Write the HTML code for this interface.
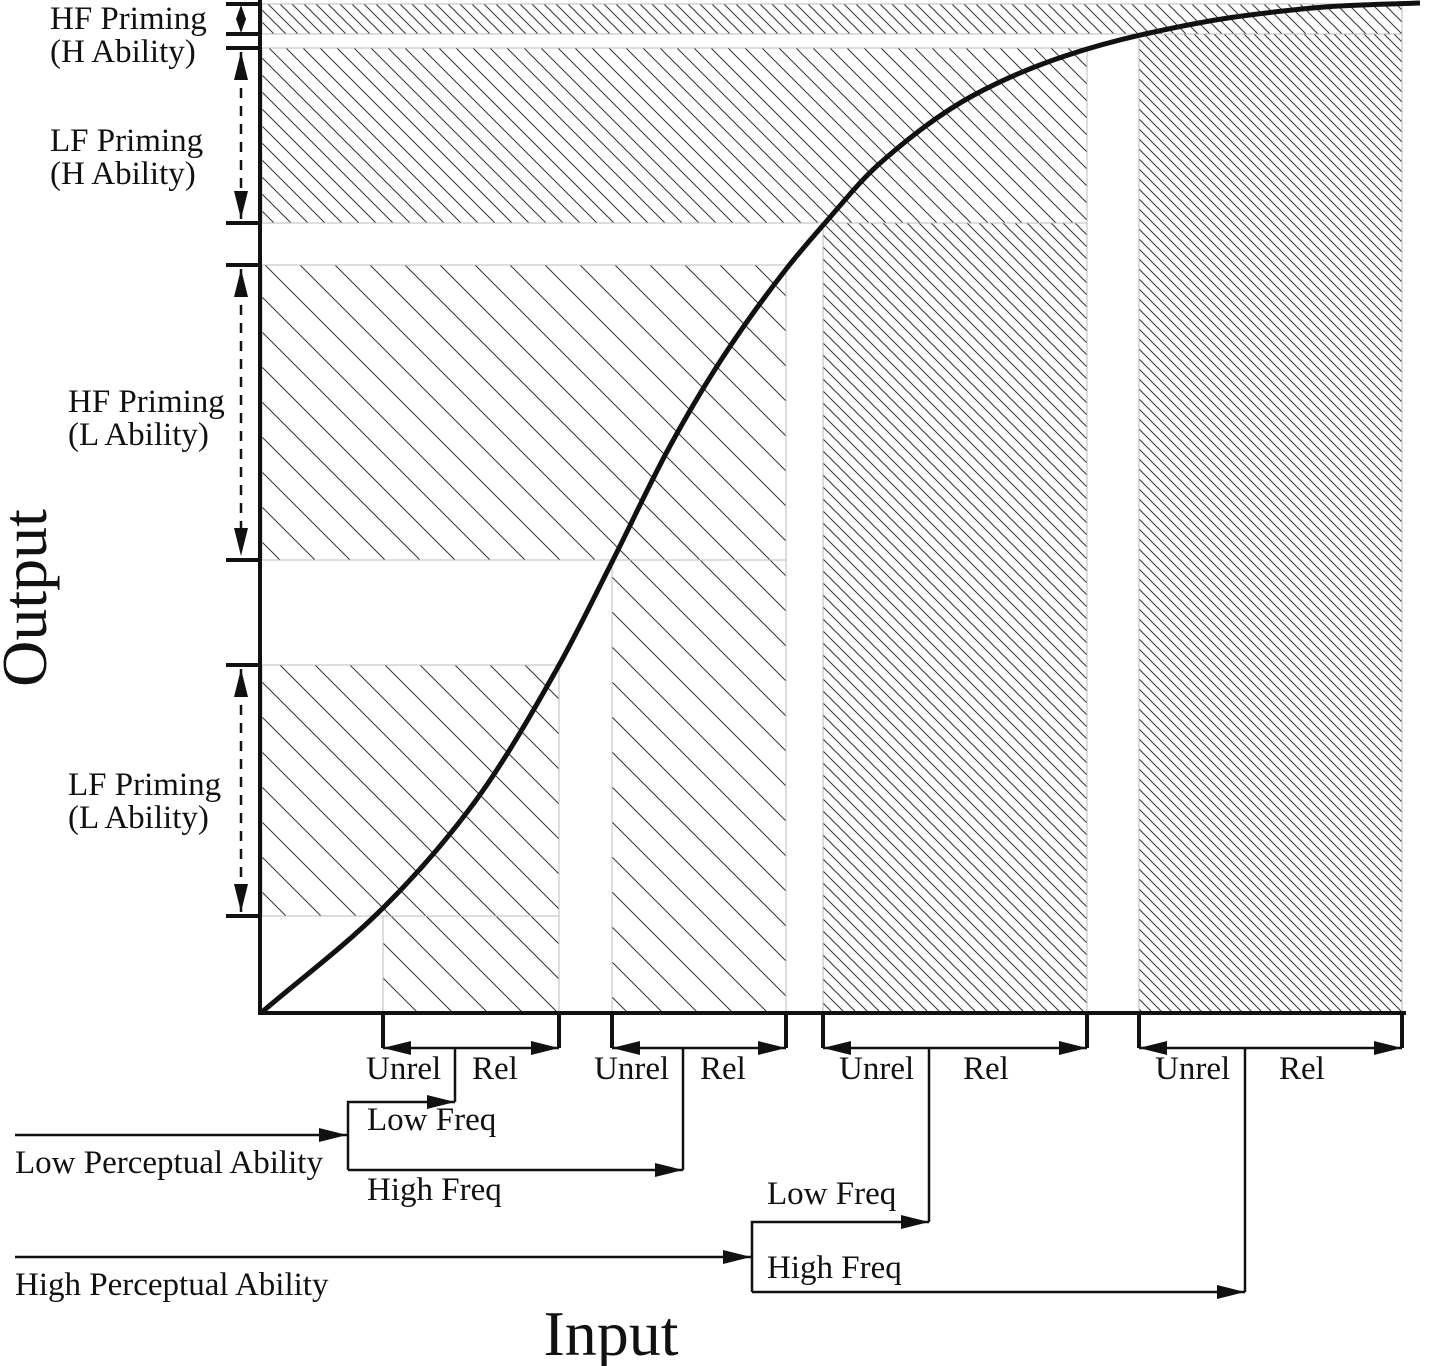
<!DOCTYPE html>
<html><head><meta charset="utf-8"><style>
body{margin:0;background:#fff}
svg{display:block}
text{font-family:"Liberation Serif",serif;fill:#111}
</style></head><body>
<svg id="chart" width="1438" height="1366" viewBox="0 0 1438 1366" xmlns="http://www.w3.org/2000/svg">
<defs>
<pattern id="h10" patternUnits="userSpaceOnUse" width="10" height="10"><path d="M-1,-1 L11,11 M-6,4 L6,16 M4,-6 L16,6" stroke="#333" stroke-width="1"/></pattern>
<pattern id="h12" patternUnits="userSpaceOnUse" width="12" height="12"><path d="M-1,-1 L13,13 M-7,5 L7,19 M5,-7 L19,7" stroke="#333" stroke-width="1"/></pattern>
<pattern id="h17" patternUnits="userSpaceOnUse" width="17" height="17"><path d="M-1,-1 L18,18 M-9,8 L9,26 M8,-9 L26,9" stroke="#333" stroke-width="1"/></pattern>
<pattern id="h35" patternUnits="userSpaceOnUse" width="35" height="35"><path d="M-1,-1 L36,36 M-18,17 L18,53 M17,-18 L53,18" stroke="#333" stroke-width="1"/></pattern>
<marker id="ahb" markerWidth="28" markerHeight="14" refX="28" refY="7" orient="auto" markerUnits="userSpaceOnUse"><path d="M0,0 L28,7 L0,14z" fill="#111"/></marker>
<marker id="ahv" markerWidth="28" markerHeight="14" refX="28" refY="7" orient="auto-start-reverse" markerUnits="userSpaceOnUse"><path d="M0,0 L28,7 L0,14z" fill="#111"/></marker>
</defs>
<g id="regions"></g>
<g id="curve"></g>
<g id="axes"></g>
<g id="labels" font-size="33">
<text x="50" y="29">HF Priming</text>
<text x="50" y="62">(H Ability)</text>
<text x="50" y="151">LF Priming</text>
<text x="50" y="184">(H Ability)</text>
<text x="68" y="412">HF Priming</text>
<text x="68" y="445">(L Ability)</text>
<text x="68" y="795">LF Priming</text>
<text x="68" y="828">(L Ability)</text>
<text transform="translate(46,598) rotate(-90)" text-anchor="middle" font-size="64">Output</text>
<text x="611" y="1355" text-anchor="middle" font-size="64">Input</text>
<text x="366" y="1079">Unrel</text>
<text x="472" y="1079">Rel</text>
<text x="594" y="1079">Unrel</text>
<text x="700" y="1079">Rel</text>
<text x="839" y="1079">Unrel</text>
<text x="963" y="1079">Rel</text>
<text x="1155" y="1079">Unrel</text>
<text x="1279" y="1079">Rel</text>
<text x="367" y="1130">Low Freq</text>
<text x="367" y="1200">High Freq</text>
<text x="15" y="1173">Low Perceptual Ability</text>
<text x="767" y="1204">Low Freq</text>
<text x="767" y="1278">High Freq</text>
<text x="15" y="1295">High Perceptual Ability</text>
</g>
</svg>
<script>
const NS='http://www.w3.org/2000/svg';
const bandNames=['hf-h-band','lf-h-band','hf-l-band','lf-l-band'];
const bandY0=[4,48,265,665];
const bandY1=[34,223,560,916];
const bandX1=[1402,1087,786,559];
const bandPat=['h12','h17','h35','h35'];
const colNames=['col-1','col-2','col-3','col-4'];
const colX0=[383,612,823,1139];
const colX1=[559,786,1087,1402];
const colY0=[916,560,223,34];
const colPat=['h35','h35','h12','h10'];
const curveX=[262,383,474,558,612,670,723,787,825,878,974,1065,1145,1242,1340,1420];
const curveY=[1012,908,803,667,562,446,357,268,223,165,95,56,34,16,6,3];
const AX0=260,AY0=1013;
function el(tag,attrs,parent){const e=document.createElementNS(NS,tag);for(const k in attrs)e.setAttribute(k,attrs[k]);parent.appendChild(e);return e;}
const reg=document.getElementById('regions');
for(let i=0;i<4;i++){
 const r=el('rect',{x:262,y:bandY0[i],width:bandX1[i]-262,height:bandY1[i]-bandY0[i],fill:'url(#'+bandPat[i]+')',stroke:'#bbb','stroke-width':1},reg);
 
 
}
for(let i=0;i<4;i++){
 const r=el('rect',{x:colX0[i],y:colY0[i],width:colX1[i]-colX0[i],height:AY0-colY0[i],fill:'url(#'+colPat[i]+')',stroke:'#bbb','stroke-width':1},reg);
 
 
}
// monotone cubic (Fritsch-Carlson) through data points
const n=curveX.length,dl=[],m=[];
for(let i=0;i<n-1;i++)dl.push((curveY[i+1]-curveY[i])/(curveX[i+1]-curveX[i]));
m[0]=dl[0];m[n-1]=dl[n-2];
for(let i=1;i<n-1;i++){const h0=curveX[i]-curveX[i-1],h1=curveX[i+1]-curveX[i];
 m[i]=dl[i-1]*dl[i]<=0?0:(3*(h0+h1))/((2*h1+h0)/dl[i-1]+(h1+2*h0)/dl[i]);}
let d='M'+curveX[0]+','+curveY[0];
for(let i=0;i<n-1;i++){const h=(curveX[i+1]-curveX[i])/3;
 d+=' C'+(curveX[i]+h)+','+(curveY[i]+m[i]*h)+' '+(curveX[i+1]-h)+','+(curveY[i+1]-m[i+1]*h)+' '+curveX[i+1]+','+curveY[i+1];}
const cv=el('path',{d:d,fill:'none',stroke:'#111','stroke-width':5},document.getElementById('curve'));


const ax=document.getElementById('axes');
const ya=el('line',{x1:AX0,y1:0,x2:AX0,y2:AY0+2,stroke:'#111','stroke-width':4},ax);


const xa=el('line',{x1:AX0,y1:AY0,x2:1406,y2:AY0,stroke:'#111','stroke-width':4},ax);


const yTicks=[4,34,48,223,265,560,665,916];
yTicks.forEach(y=>{const t=el('line',{x1:226,y1:y,x2:AX0,y2:y,stroke:'#111','stroke-width':4},ax);
 
 });
for(let i=0;i<4;i++){
 const a=yTicks[2*i],b=yTicks[2*i+1];
 let l;
 if(i==0){l=el('path',{d:'M241,5 L236,19 L241,33 L246,19z',fill:'#111'},ax);}
 else l=el('line',{x1:241,y1:a+4,x2:241,y2:b-4,stroke:'#111','stroke-width':2.5,'stroke-dasharray':'10,8','marker-start':'url(#ahv)','marker-end':'url(#ahv)'},ax);
 
 
}
const splitX=[455,683,929,1245];
for(let i=0;i<4;i++){
 [colX0[i],colX1[i]].forEach(x=>{const t=el('line',{x1:x,y1:AY0,x2:x,y2:1048,stroke:'#111','stroke-width':4},ax);
  
  });
 [colX0[i],colX1[i]].forEach(x=>{const a=el('line',{x1:splitX[i],y1:1048,x2:x,y2:1048,stroke:'#111','stroke-width':2.5,'marker-end':'url(#ahb)'},ax);
  
  });
}
function poly(pts,name,arrow){const p=el('polyline',{points:pts,fill:'none',stroke:'#111','stroke-width':2.5},ax);if(arrow)p.setAttribute('marker-end','url(#ahb)');
 
 }
poly('455,1048 455,1102','split-line-1',false);
poly('683,1048 683,1170','split-line-2',false);
poly('929,1048 929,1222','split-line-3',false);
poly('1245,1048 1245,1292','split-line-4',false);
poly('15,1135 347,1135','low-ability-arrow',true);
poly('348,1170 348,1102 455,1102','lpa-low-freq-arrow',true);
poly('348,1170 683,1170','lpa-high-freq-arrow',true);
poly('15,1257 751,1257','high-ability-arrow',true);
poly('752,1292 752,1222 929,1222','hpa-low-freq-arrow',true);
poly('752,1292 1245,1292','hpa-high-freq-arrow',true);
</script>
</body></html>
